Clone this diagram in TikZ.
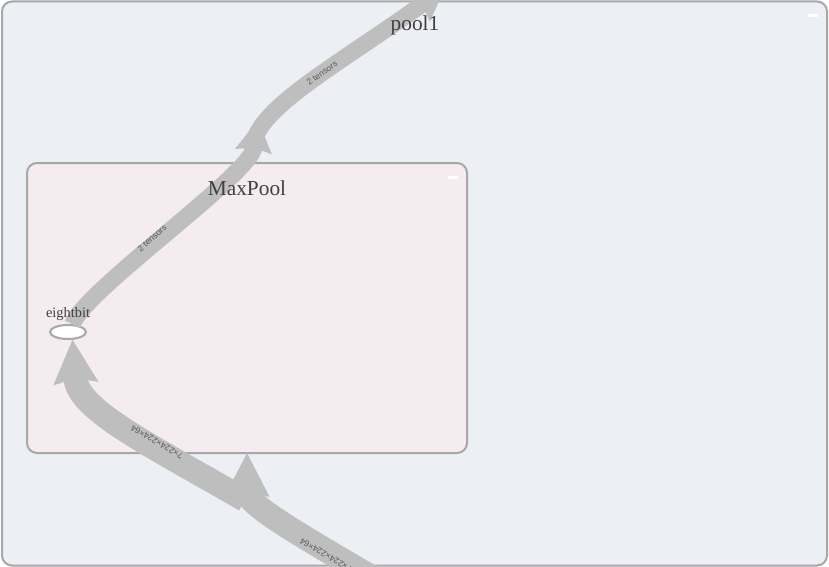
\documentclass[tikz,border=0pt]{standalone}
\usepackage{fontspec}
\setmainfont{Liberation Serif}
\newfontfamily\edgefont{Liberation Sans}
\usetikzlibrary{arrows.meta,positioning,shapes.geometric}
\definecolor{outerbg}{RGB}{236,240,245}
\definecolor{innerbg}{RGB}{245,236,240}
\definecolor{flowgray}{RGB}{190,190,190}
\definecolor{boxline}{RGB}{168,166,168}
\definecolor{titlegray}{RGB}{64,64,64}
\definecolor{tinygray}{RGB}{90,90,90}
\begin{document}
\begin{tikzpicture}[x=0.75pt,y=-0.75pt,
    groupbox/.style={draw=boxline,line width=1.5pt,rounded corners=7.5pt},
    bigflow/.style={draw=flowgray,line width=18pt,
        -{Stealth[length=33pt,width=34pt,inset=4pt,line width=0pt]}},
    smallflow/.style={draw=flowgray,line width=12.5pt,
        -{Stealth[length=24pt,width=28pt,inset=3pt,line width=0pt]}},
    flowlabel/.style={font=\edgefont\fontsize{6.5}{7}\selectfont,text=tinygray,inner sep=0pt},
    grouptitle/.style={font=\fontsize{16}{18}\selectfont,text=titlegray,inner sep=0pt},
    opnode/.style={ellipse,draw=boxline,line width=1.5pt,fill=white,
        minimum width=27pt,minimum height=10.5pt,inner sep=0pt}]
\useasboundingbox (0,0) rectangle (829,567);
\clip (0,0) rectangle (829,567);
% groups
\draw[groupbox,fill=outerbg] (2,1.5) rectangle (827,565.5);
\fill[white] (808,14) rectangle (818,17);
\draw[groupbox,fill=innerbg] (27,163) rectangle (467,453);
\fill[white] (448,176) rectangle (458,179);
% op and flows
\node[opnode] (eightbit) at (68,332) {};
\coordinate (inbottom) at (385,585);
\coordinate (maxbottom) at (247,453);
\coordinate (maxin) at (245,500);
\coordinate (maxtop) at (258,120);
\coordinate (maxout) at (252,150);
\coordinate (poolout) at (445,-12);
\draw[bigflow] (inbottom) .. controls (300,535) and (247,505) .. (maxbottom);
\draw[bigflow] (maxin) .. controls (150,445) and (78,410) .. (eightbit.-60);
\draw[smallflow] (eightbit.60) .. controls (85,290) and (250,175) .. (maxtop);
\draw[smallflow] (maxout) .. controls (254,110) and (330,70) .. (poolout);
% titles
\node[grouptitle] (pooltitle) at (415,25) {pool1};
\node[grouptitle] (maxtitle) at (247,188) {MaxPool};
\node[font=\fontsize{10.8}{12}\selectfont,text=titlegray,inner sep=0pt,above=2pt of eightbit] (eightbittxt) {eightbit};
% edge labels
\node[flowlabel,rotate=36] (lbla) at (322,73) {2 tensors};
\node[flowlabel,rotate=42] (lblb) at (152,238) {2 tensors};
\node[flowlabel,rotate=150] (lblc) at (157,442) {?×224×224×64};
\node[flowlabel,rotate=150] (lbld) at (326,555) {?×224×224×64};
\end{tikzpicture}
\end{document}
